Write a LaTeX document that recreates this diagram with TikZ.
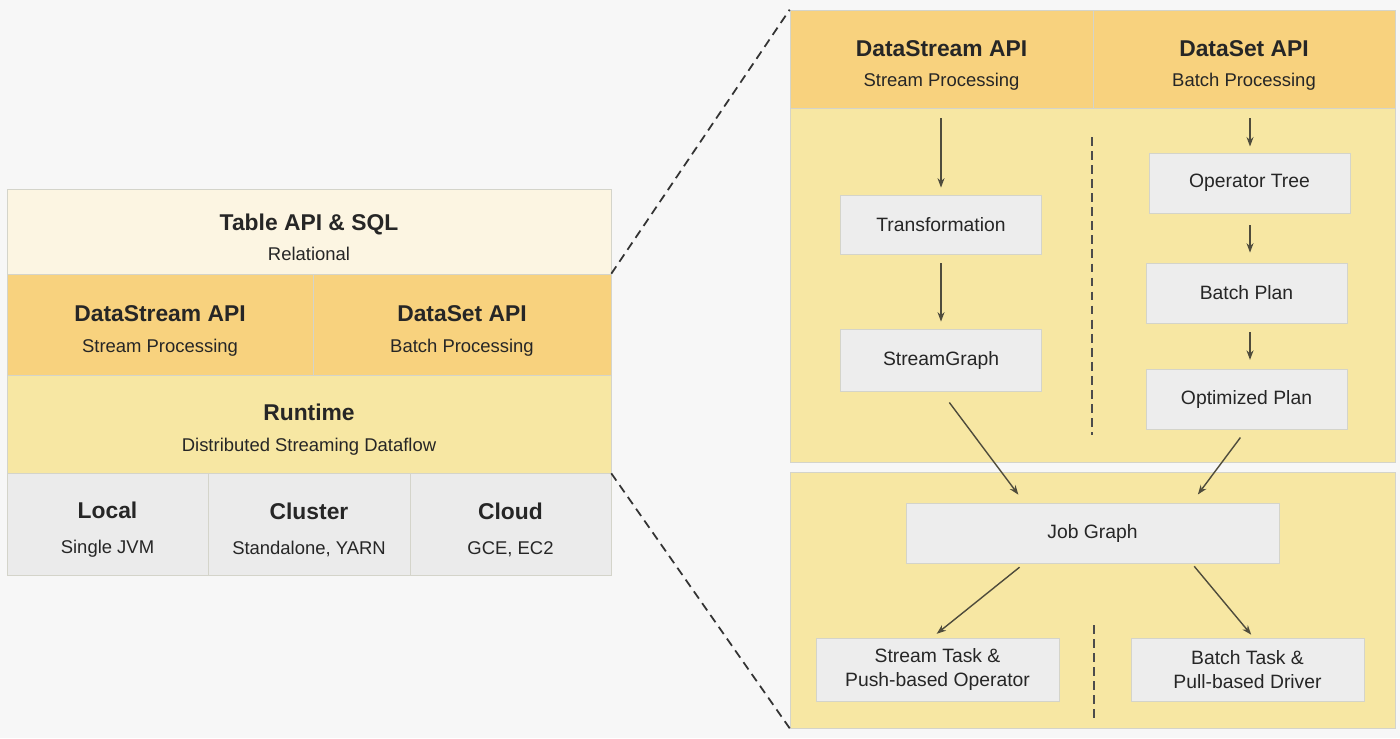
\documentclass[tikz,border=0pt]{standalone}
\usepackage{fontspec}
\setmainfont{Liberation Sans}
\usepackage{tikz}
\usetikzlibrary{arrows.meta}
\definecolor{paper}{HTML}{F7F7F7}
\definecolor{cream}{HTML}{FCF5E2}
\definecolor{apiorange}{HTML}{F8D27E}
\definecolor{runyellow}{HTML}{F7E7A3}
\definecolor{deploygray}{HTML}{EBEBEB}
\definecolor{boxgray}{HTML}{EDEDED}
\definecolor{edgegray}{HTML}{D4D4CA}
\definecolor{flowline}{HTML}{4F4C3C}
\newcommand{\layertitle}[1]{{\fontsize{13}{16}\selectfont\bfseries\rule{0pt}{16pt}#1}}
\newcommand{\layertxt}[3][4.5pt]{\layertitle{#2}\\[#1]#3}
\tikzset{
  layer/.style    = {draw=edgegray, inner sep=0pt, align=center, text=black!85,
                     font=\fontsize{10.5}{13}\selectfont},
  stepbox/.style  = {draw=edgegray, fill=boxgray, inner sep=0pt, align=center,
                     text=black!85, font=\fontsize{11}{13.5}\selectfont},
  flow/.style     = {-{Stealth[length=1.9mm,width=1.4mm]}, flowline, line width=0.8pt},
  zoomline/.style = {black!80, line width=1pt, dash pattern=on 5pt off 3.2pt},
  split/.style    = {black!70, line width=0.7pt, dash pattern=on 5pt off 3pt}
}

\begin{document}
\begin{tikzpicture}[x=0.02cm,y=-0.02cm]
  \fill[paper] (0,0) rectangle (1400,738);
  % the layered stack on the left
  \node[layer,fill=cream,minimum width=12.08cm,minimum height=1.7cm] (table) at (309,231.5)
       {\layertxt{Table API \& SQL}{Relational}};
  \node[layer,fill=apiorange,minimum width=6.12cm,minimum height=2.02cm] (dstream) at (160,324.5)
       {\layertxt{DataStream API}{Stream Processing}};
  \node[layer,fill=apiorange,minimum width=5.96cm,minimum height=2.02cm] (dset) at (462,324.5)
       {\layertxt{DataSet API}{Batch Processing}};
  \node[layer,fill=runyellow,minimum width=12.08cm,minimum height=1.96cm] (runtime) at (309,424)
       {\layertxt{Runtime}{Distributed Streaming Dataflow}};
  \node[layer,fill=deploygray,minimum width=4.02cm,minimum height=2.04cm] (local) at (107.5,524)
       {\layertxt[7pt]{Local}{Single JVM}};
  \node[layer,fill=deploygray,minimum width=4.04cm,minimum height=2.04cm] (cluster) at (309,524)
       {\layertxt[7pt]{Cluster}{Standalone, YARN}};
  \node[layer,fill=deploygray,minimum width=4.02cm,minimum height=2.04cm] (cloud) at (510.5,524)
       {\layertxt[7pt]{Cloud}{GCE, EC2}};
  % the zoomed-in panels on the right
  \node[layer,fill=runyellow,minimum width=12.1cm,minimum height=7.08cm] (rbody) at (1092.5,285) {};
  \node[layer,fill=apiorange,minimum width=6.06cm,minimum height=1.96cm] (rhead1) at (941.5,59)
       {\layertxt[4pt]{DataStream API}{Stream Processing}};
  \node[layer,fill=apiorange,minimum width=6.04cm,minimum height=1.96cm] (rhead2) at (1244,59)
       {\layertxt[4pt]{DataSet API}{Batch Processing}};
  \node[layer,fill=runyellow,minimum width=12.1cm,minimum height=5.12cm] (rlow) at (1092.5,600) {};
  % zoom lines
  \draw[zoomline] (dset.north east) -- (rhead1.north west);
  \draw[zoomline] (runtime.south east) -- (rlow.south west);
  % stream vs batch separators
  \draw[split] (1092,137) -- (1092,435);
  \draw[split] (1094,625) -- (1094,722);
  % translation steps
  \node[stepbox,minimum width=4.02cm,minimum height=1.18cm] (trans) at (941,224.5) {Transformation};
  \node[stepbox,minimum width=4.02cm,minimum height=1.24cm] (sgraph) at (941,360) {StreamGraph};
  \node[stepbox,minimum width=4.02cm,minimum height=1.2cm] (optree) at (1249.5,183) {Operator Tree};
  \node[stepbox,minimum width=4.02cm,minimum height=1.2cm] (bplan) at (1246.5,293) {Batch Plan};
  \node[stepbox,minimum width=4.02cm,minimum height=1.2cm] (oplan) at (1246.5,399) {Optimized Plan};
  \node[stepbox,minimum width=7.46cm,minimum height=1.2cm] (jgraph) at (1092.5,533) {Job Graph};
  \node[stepbox,minimum width=4.86cm,minimum height=1.26cm] (stask) at (937.5,669.5)
       {Stream Task \&\\Push-based Operator};
  \node[stepbox,minimum width=4.66cm,minimum height=1.26cm] (btask) at (1247.5,669.5)
       {Batch Task \&\\Pull-based Driver};
  \coordinate (sfeed) at (941,118);
  \coordinate (bfeed) at (1250,118);
  \draw[flow,shorten >=4pt] (sfeed) -- (trans);
  \draw[flow,shorten <=5pt,shorten >=4pt] (trans) -- (sgraph);
  \draw[flow,shorten >=3.5pt] (bfeed) -- (optree.north -| bfeed);
  \draw[flow,shorten <=6.8pt,shorten >=5.7pt] (optree.south -| bfeed) -- (bplan.north -| bfeed);
  \draw[flow,shorten <=5pt,shorten >=5pt] (bplan.south -| bfeed) -- (oplan.north -| bfeed);
  \draw[flow,shorten <=7.9pt,shorten >=5.7pt] (sgraph.south) -- (jgraph.156);
  \draw[flow,shorten <=5.8pt,shorten >=5.8pt] (oplan.south) -- (jgraph.17);
  \draw[flow,shorten <=3.5pt,shorten >=3.5pt] (jgraph.204) -- (stask.100);
  \draw[flow,shorten <=2.2pt,shorten >=2.2pt] (jgraph.-17) -- (btask.79);
\end{tikzpicture}
\end{document}
